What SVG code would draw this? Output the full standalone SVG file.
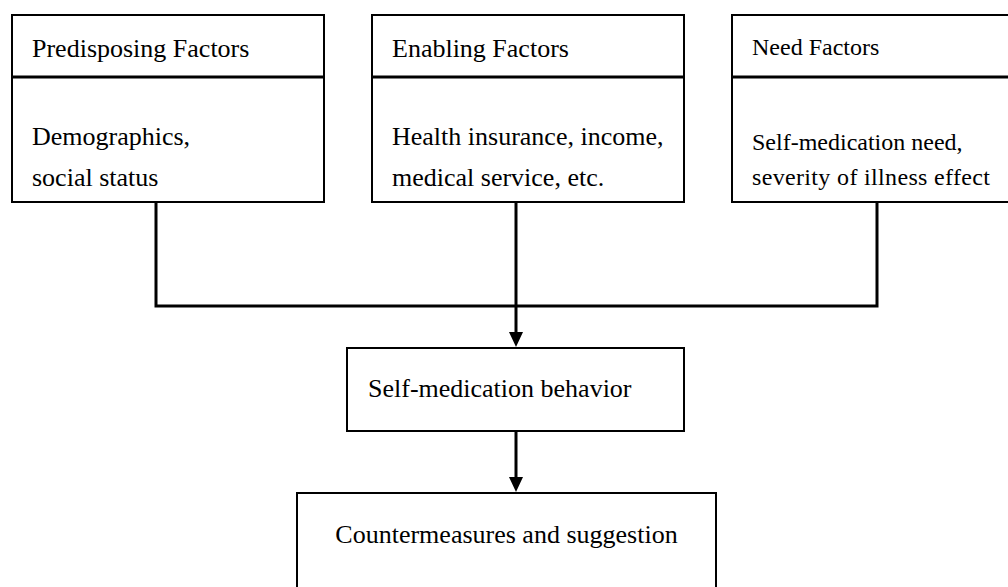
<svg xmlns="http://www.w3.org/2000/svg" width="1008" height="587" viewBox="0 0 1008 587">
<style>
.box{fill:#fff;stroke:#000;stroke-width:2}
.div{stroke:#000;stroke-width:3}
.t{font-family:"Liberation Serif","Times New Roman",serif;font-size:26px;fill:#000}
.tn{font-family:"Liberation Serif","Times New Roman",serif;font-size:24px;fill:#000}
.c{fill:none;stroke:#000;stroke-width:3}
.ah{fill:#000}
</style>
<rect width="1008" height="587" fill="#fff"/>
<g id="connectors">
<polyline class="c" points="156,202 156,306 877,306 877,202"/>
<line class="c" x1="516" y1="202" x2="516" y2="334"/>
<polygon class="ah" points="509,332 523,332 516,347"/>
<line class="c" x1="516" y1="431" x2="516" y2="479"/>
<polygon class="ah" points="509,477 523,477 516,492"/>
</g>
<g id="predisposing">
<rect class="box" x="12" y="15" width="312" height="187"/>
<line class="div" x1="12" y1="77" x2="324" y2="77"/>
<text class="t" x="32" y="57">Predisposing Factors</text>
<text class="t" x="32" y="145">Demographics,</text>
<text class="t" x="32" y="186">social status</text>
</g>
<g id="enabling">
<rect class="box" x="372" y="15" width="312" height="187"/>
<line class="div" x1="372" y1="77" x2="684" y2="77"/>
<text class="t" x="392" y="57">Enabling Factors</text>
<text class="t" x="392" y="145">Health insurance, income,</text>
<text class="t" x="392" y="186">medical service, etc.</text>
</g>
<g id="need">
<rect class="box" x="732" y="15" width="290" height="187"/>
<line class="div" x1="732" y1="77" x2="1010" y2="77"/>
<text class="tn" x="752" y="55">Need Factors</text>
<text class="tn" x="752" y="150">Self-medication need,</text>
<text class="tn" x="752" y="185" textLength="238">severity of illness effect</text>
</g>
<g id="behavior">
<rect class="box" x="347" y="348" width="337" height="83"/>
<text class="t" x="368" y="397">Self-medication behavior</text>
</g>
<g id="countermeasures">
<rect class="box" x="297" y="493" width="419" height="110"/>
<text class="t" x="506.5" y="543" text-anchor="middle">Countermeasures and suggestion</text>
</g>
</svg>
